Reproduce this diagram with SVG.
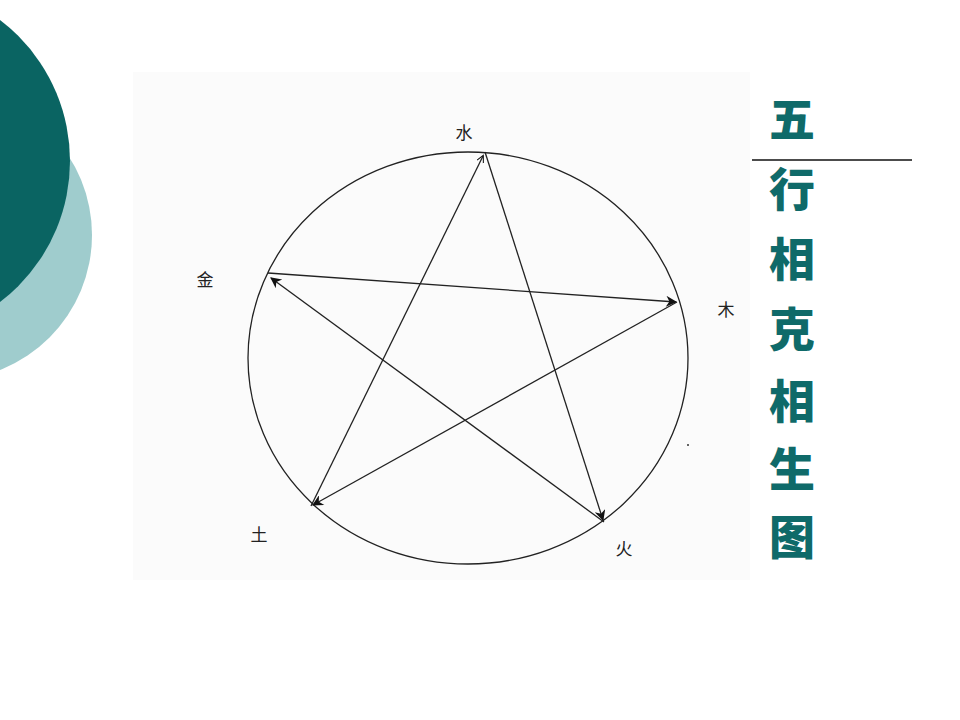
<svg xmlns="http://www.w3.org/2000/svg" width="960" height="720" viewBox="0 0 960 720">
<defs>
<style>
.lbl{font-family:"Noto Sans CJK SC","Noto Sans CJK JP",sans-serif;font-size:17px;fill:#222;text-anchor:middle}
.ttl{font-family:"Noto Sans CJK SC","Noto Sans CJK JP",sans-serif;font-size:46px;font-weight:900;fill:#0f6a69;text-anchor:middle}
.edge{stroke:#222;stroke-width:1.3;fill:none}
</style>
<marker id="ah" viewBox="0 0 10 10" refX="9" refY="5" markerWidth="16" markerHeight="11" markerUnits="userSpaceOnUse" orient="auto">
<path d="M0,0 L10,5 L0,10 L3,5 Z" fill="#111"/>
</marker>
<marker id="ahs" viewBox="0 0 10 10" refX="9" refY="5" markerWidth="9" markerHeight="7" markerUnits="userSpaceOnUse" orient="auto">
<path d="M0,0 L10,5 L0,10" fill="none" stroke="#111" stroke-width="1.5"/>
</marker>
</defs>
<rect width="960" height="720" fill="#ffffff"/>
<g id="decor">
<circle cx="-53" cy="235" r="145" fill="#9fcccd"/>
<circle cx="-107" cy="161" r="177" fill="#0a6462"/>
</g>
<rect x="133" y="72" width="617" height="508" fill="#fbfbfb"/>
<g id="ring">
<ellipse cx="468" cy="358" rx="220" ry="206" fill="none" stroke="#222" stroke-width="1.3"/>
<circle cx="688" cy="445" r="1" fill="#333"/>
</g>
<g id="connectors">
<line class="edge" x1="485" y1="152" x2="603" y2="520" marker-end="url(#ah)"/>
<line class="edge" x1="604" y1="522" x2="271" y2="278" marker-end="url(#ah)"/>
<line class="edge" x1="268" y1="273" x2="676" y2="302" stroke-width="2.2" marker-end="url(#ah)"/>
<line class="edge" x1="677" y1="302" x2="313" y2="505" marker-end="url(#ah)"/>
<line class="edge" x1="311" y1="506" x2="483" y2="156" marker-end="url(#ahs)"/>
</g>
<g id="n-shui"><text class="lbl" x="464" y="139">水</text></g>
<g id="n-jin"><text class="lbl" x="205" y="286">金</text></g>
<g id="n-mu"><text class="lbl" x="726" y="316">木</text></g>
<g id="n-tu"><text class="lbl" x="259" y="541">土</text></g>
<g id="n-huo"><text class="lbl" x="624" y="555">火</text></g>
<g id="title">
<text class="ttl" x="792" y="136">五</text>
<line x1="752" y1="160" x2="912" y2="160" stroke="#111" stroke-width="1.3"/>
<text class="ttl" x="792" y="206">行</text>
<text class="ttl" x="792" y="276">相</text>
<text class="ttl" x="792" y="346">克</text>
<text class="ttl" x="792" y="418">相</text>
<text class="ttl" x="792" y="486">生</text>
<text class="ttl" x="792" y="554">图</text>
</g>
</svg>
